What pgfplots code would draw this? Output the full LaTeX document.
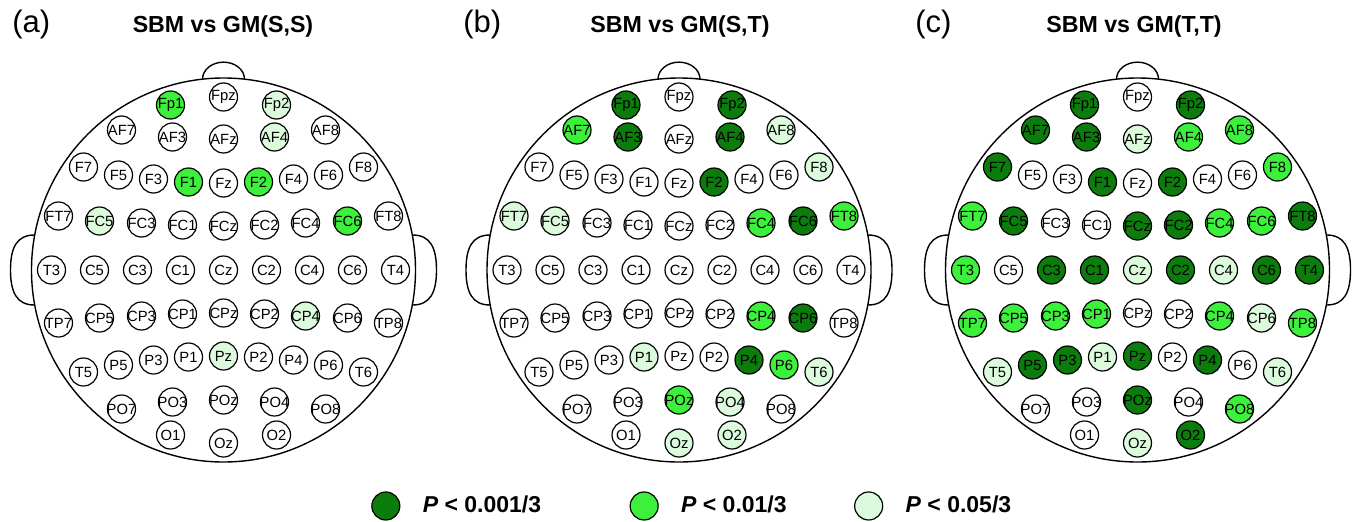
\documentclass[border=0pt]{standalone}
\usepackage{pgfplots}
\pgfplotsset{compat=1.18}
\usepackage{pgfplotstable}
\usepackage{fontspec}
\setmainfont{Liberation Sans}
\definecolor{darkg}{HTML}{0C7C0C}
\definecolor{midg}{HTML}{3CF03C}
\definecolor{lightg}{HTML}{DCFADC}
\newcommand{\elecfont}{\fontsize{7.4}{8}\selectfont}

% electrode positions (px relative to head centre, y up) and significance class per panel
% 0 = n.s., 1 = P<0.05/3, 2 = P<0.01/3, 3 = P<0.001/3
\pgfplotstableread{
lbl x y a b c
Fp1 -53 165 2 3 3
Fpz 0 173 0 0 0
Fp2 53 165 1 3 3
AF7 -102 140 0 2 3
AF3 -51 133 0 3 3
AFz 0 131 0 0 1
AF4 51 133 1 3 2
AF8 102 140 0 1 2
F7 -140 103 0 0 3
F5 -105 95 0 0 0
F3 -70 91 0 0 0
F1 -35 88 2 0 3
Fz 0 87 0 0 0
F2 35 88 2 3 3
F4 70 91 0 0 0
F6 105 95 0 0 0
F8 140 103 0 1 2
FT7 -165 54 0 1 2
FC5 -124 49 1 1 3
FC3 -82 47 0 0 0
FC1 -41 45 0 0 0
FCz 0 44 0 0 3
FC2 41 45 0 0 3
FC4 82 47 0 2 2
FC6 124 49 2 3 2
FT8 165 54 0 2 3
T3 -172 0 0 0 2
C5 -129 0 0 0 0
C3 -86 0 0 0 3
C1 -43 0 0 0 3
Cz 0 0 0 0 1
C2 43 0 0 0 3
C4 86 0 0 0 1
C6 129 0 0 0 3
T4 172 0 0 0 3
TP7 -165 -53 0 0 2
CP5 -124 -48 0 0 2
CP3 -82 -46 0 0 2
CP1 -41 -44 0 0 2
CPz 0 -43 0 0 0
CP2 41 -44 0 0 0
CP4 82 -46 1 2 2
CP6 124 -48 0 3 1
TP8 165 -53 0 0 2
T5 -140 -102 0 0 1
P5 -105 -95 0 0 3
P3 -70 -90 0 0 3
P1 -35 -87 0 1 1
Pz 0 -86 1 0 3
P2 35 -87 0 0 0
P4 70 -90 0 3 3
P6 105 -95 0 2 0
T6 140 -102 0 1 1
PO7 -102 -139 0 0 0
PO3 -51 -132 0 0 0
POz 0 -130 0 2 3
PO4 51 -132 0 1 0
PO8 102 -139 0 0 2
O1 -53 -165 0 0 0
Oz 0 -173 0 1 1
O2 53 -165 0 1 3
}\elec

\pgfplotsset{
  headaxis/.style={hide axis, scale only axis, width=220pt, height=207.5pt,
    xmin=-220, xmax=220, ymin=-200, ymax=215, clip=false, anchor=south west},
  eplot/.style={only marks, mark=*, mark size=7pt,
    mark options={draw=black, fill=#1, line width=0.6pt},
    point meta=explicit symbolic,
    nodes near coords,
    every node near coord/.append style={anchor=center, inner sep=0pt, text=black, font=\elecfont}},
}

\newcommand{\headoutline}{%
  \draw[line width=0.7pt] (axis cs:-21,190.85) arc[start angle=180, end angle=0, x radius=10.5pt, y radius=8.5pt];
  \draw[line width=0.7pt] (axis cs:-189,35) .. controls (axis cs:-207,35) and (axis cs:-213,22) .. (axis cs:-213,0)
        .. controls (axis cs:-213,-22) and (axis cs:-207,-35) .. (axis cs:-189,-35);
  \draw[line width=0.7pt] (axis cs:189,35) .. controls (axis cs:207,35) and (axis cs:213,22) .. (axis cs:213,0)
        .. controls (axis cs:213,-22) and (axis cs:207,-35) .. (axis cs:189,-35);
  \draw[line width=0.7pt] (axis cs:0,0) circle[radius=96pt];
}

\begin{document}
\begin{tikzpicture}
\useasboundingbox (0,0) rectangle (677pt,260.5pt);

% panel (a)
\begin{axis}[headaxis, at={(1.75pt,25.5pt)}]
  \headoutline
  \addplot[eplot=white, restrict expr to domain={\thisrow{a}}{-0.5:0.5}] table[x=x, y=y, meta=lbl] {\elec};
  \addplot[eplot=lightg, restrict expr to domain={\thisrow{a}}{0.5:1.5}] table[x=x, y=y, meta=lbl] {\elec};
  \addplot[eplot=midg, restrict expr to domain={\thisrow{a}}{1.5:2.5}] table[x=x, y=y, meta=lbl] {\elec};
\end{axis}

% panel (b)
\begin{axis}[headaxis, at={(229.5pt,25.5pt)},
    legend columns=3,
    legend cell align=left,
    legend style={at={(0.533,-0.0867)}, anchor=center, draw=none, fill=none,
      font=\bfseries\fontsize{11.5}{13}\selectfont,
      /tikz/every odd column/.append style={column sep=9.5pt},
      /tikz/column 2/.append style={column sep=42.5pt},
      /tikz/column 4/.append style={column sep=32pt}}]
  \headoutline
  \addplot[eplot=white, restrict expr to domain={\thisrow{b}}{-0.5:0.5}, forget plot] table[x=x, y=y, meta=lbl] {\elec};
  \addplot[eplot=lightg, restrict expr to domain={\thisrow{b}}{0.5:1.5}, forget plot] table[x=x, y=y, meta=lbl] {\elec};
  \addplot[eplot=midg, restrict expr to domain={\thisrow{b}}{1.5:2.5}, forget plot] table[x=x, y=y, meta=lbl] {\elec};
  \addplot[eplot=darkg, restrict expr to domain={\thisrow{b}}{2.5:3.5}, forget plot] table[x=x, y=y, meta=lbl] {\elec};
  \addlegendimage{only marks, mark=*, mark size=7pt, mark options={draw=black, fill=darkg, line width=0.6pt}}
  \addlegendentry{\textit{P} < 0.001/3}
  \addlegendimage{only marks, mark=*, mark size=7pt, mark options={draw=black, fill=midg, line width=0.6pt}}
  \addlegendentry{\textit{P} < 0.01/3}
  \addlegendimage{only marks, mark=*, mark size=7pt, mark options={draw=black, fill=lightg, line width=0.6pt}}
  \addlegendentry{\textit{P} < 0.05/3}
\end{axis}

% panel (c)
\begin{axis}[headaxis, at={(458.75pt,25.5pt)}]
  \headoutline
  \addplot[eplot=white, restrict expr to domain={\thisrow{c}}{-0.5:0.5}] table[x=x, y=y, meta=lbl] {\elec};
  \addplot[eplot=lightg, restrict expr to domain={\thisrow{c}}{0.5:1.5}] table[x=x, y=y, meta=lbl] {\elec};
  \addplot[eplot=midg, restrict expr to domain={\thisrow{c}}{1.5:2.5}] table[x=x, y=y, meta=lbl] {\elec};
  \addplot[eplot=darkg, restrict expr to domain={\thisrow{c}}{2.5:3.5}] table[x=x, y=y, meta=lbl] {\elec};
\end{axis}

% panel titles
\node[anchor=base west, inner sep=0pt, font=\fontsize{15.5}{18}\selectfont] at (6pt,244pt) {(a)};
\node[anchor=base, inner sep=0pt, font=\bfseries\fontsize{11.6}{13}\selectfont] at (111.5pt,244pt) {SBM vs GM(S,S)};
\node[anchor=base west, inner sep=0pt, font=\fontsize{15.5}{18}\selectfont] at (231.5pt,244pt) {(b)};
\node[anchor=base, inner sep=0pt, font=\bfseries\fontsize{11.6}{13}\selectfont] at (340pt,244pt) {SBM vs GM(S,T)};
\node[anchor=base west, inner sep=0pt, font=\fontsize{15.5}{18}\selectfont] at (457.5pt,244pt) {(c)};
\node[anchor=base, inner sep=0pt, font=\bfseries\fontsize{11.6}{13}\selectfont] at (567pt,244pt) {SBM vs GM(T,T)};
\end{tikzpicture}
\end{document}
